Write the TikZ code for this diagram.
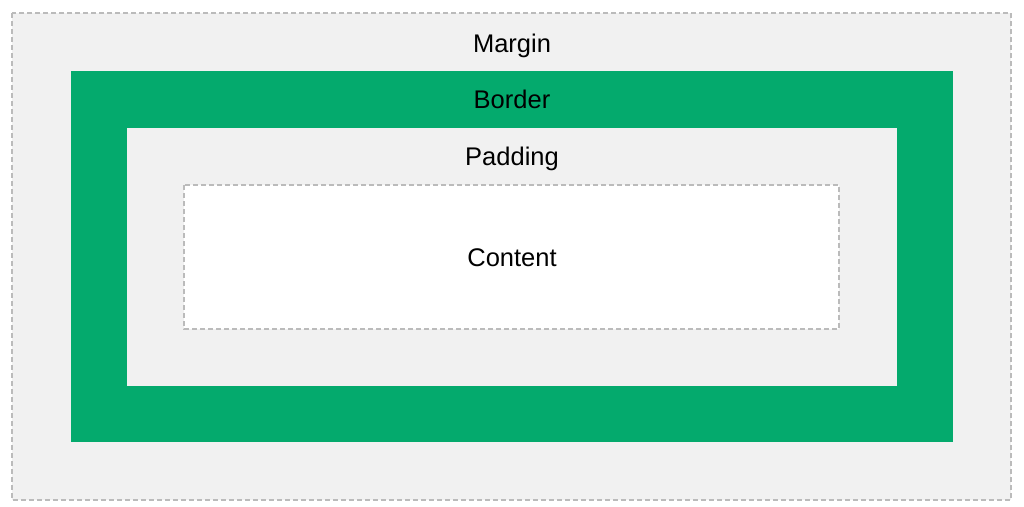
\documentclass[tikz,border=0pt]{standalone}
\usepackage{fontspec}
\setmainfont{Liberation Sans}
\definecolor{marginbg}{HTML}{F1F1F1}
\definecolor{bordergreen}{HTML}{04AA6D}
\definecolor{dashgray}{HTML}{BBBBBB}
\tikzset{
  dashbox/.style={draw=dashgray, line width=1.6pt, dash pattern=on 5pt off 3pt},
  lbl/.style={font=\fontsize{25.5pt}{30pt}\selectfont, anchor=base, inner sep=0pt, text=black}
}
\begin{document}
\begin{tikzpicture}[x=1pt,y=-1pt]
\useasboundingbox (0,0) rectangle (1024,506);
\fill[white] (0,0) rectangle (1024,506);
\path[dashbox, fill=marginbg] (12,13) rectangle (1011,500);
\fill[bordergreen] (71,71) rectangle (953,442);
\fill[marginbg] (127,128) rectangle (897,386);
\path[dashbox, fill=white] (184,185) rectangle (839,329);
\node[lbl] (margin) at (512,52) {Margin};
\node[lbl] (border) at (512,108) {Border};
\node[lbl] (padding) at (512,165.5) {Padding};
\node[lbl] (content) at (512,266) {Content};
\end{tikzpicture}
\end{document}
